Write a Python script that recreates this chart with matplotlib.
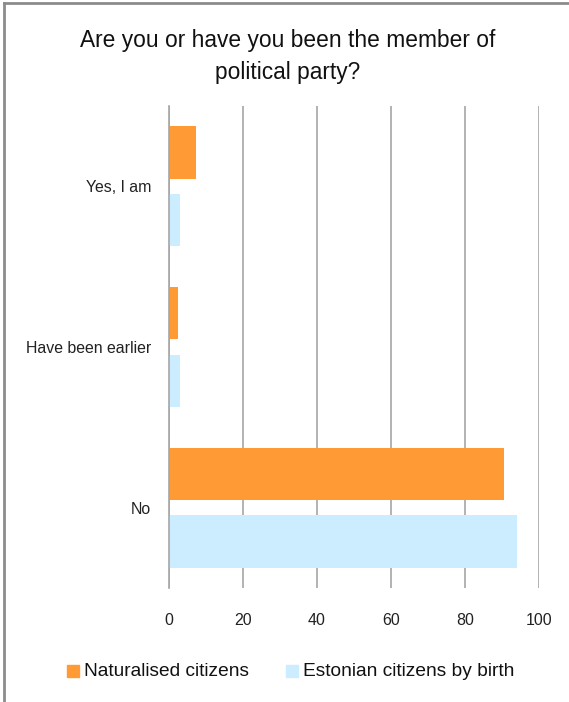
import matplotlib
matplotlib.use("Agg")
import matplotlib.pyplot as plt
from matplotlib.lines import Line2D
from matplotlib.patches import Rectangle
import numpy as np

# ── data ─────────────────────────────────────────────────────────────────────
categories = ["Yes, I am", "Have been earlier", "No"]
naturalised = [7.2, 2.5, 90.6]
by_birth = [3.0, 3.0, 94.1]
series_labels = ["Naturalised citizens", "Estonian citizens by birth"]
x_ticks = [0, 20, 40, 60, 80, 100]

ORANGE = "#FF9A35"
BLUE = "#CCECFF"
GRID = "#A6A6A6"
FONT = ["Liberation Sans", "DejaVu Sans"]

plt.rcParams["font.family"] = FONT

fig = plt.figure(figsize=(5.69, 7.02), dpi=100, facecolor="white")
ax = fig.add_axes([169 / 569, 1 - 588 / 702, 370 / 569, 482 / 702])

y = np.arange(len(categories))
h = 0.325
off = 0.21
ax.barh(y - off, naturalised, height=h, color=ORANGE, zorder=3,
        label=series_labels[0])
ax.barh(y + off, by_birth, height=h, color=BLUE, zorder=3,
        label=series_labels[1])

ax.set_xlim(0, 100)
ax.set_ylim(2.5, -0.5)
ax.set_xticks(x_ticks)
ax.set_yticks(y)
ax.set_yticklabels(categories, fontsize=11.4, color="#222222")
ax.tick_params(axis="y", length=0, pad=13)
ax.tick_params(axis="x", length=0, pad=18, labelsize=11.5, labelcolor="#222222")

ax.grid(axis="x", color=GRID, linewidth=1.2, zorder=0)
for s in ["top", "right", "bottom"]:
    ax.spines[s].set_visible(False)
ax.spines["left"].set_color(GRID)
ax.spines["left"].set_linewidth(1.2)
ax.spines["left"].set_zorder(4)

fig.text(288 / 569, 1 - 40 / 702, "Are you or have you been the member of",
         ha="center", va="center", fontsize=16.4, color="#111111")
fig.text(288 / 569, 1 - 72 / 702, "political party?",
         ha="center", va="center", fontsize=16.4, color="#111111")

# legend
leg_y = 1 - 671 / 702
for xs, lab, col in [(67, series_labels[0], ORANGE), (286, series_labels[1], BLUE)]:
    fig.add_artist(Rectangle((xs / 569, leg_y - 6 / 702), 12 / 569, 12 / 702,
                             transform=fig.transFigure, color=col))
    fig.text((xs + 17) / 569, leg_y, lab, ha="left", va="center",
             fontsize=13.8, color="#111111")

# chart frame (left and top edges visible)
fig.add_artist(Line2D([4 / 569, 4 / 569], [0, 1 - 3 / 702],
                      transform=fig.transFigure, color="#8C8C8C", linewidth=2))
fig.add_artist(Line2D([4 / 569, 1], [1 - 3 / 702, 1 - 3 / 702],
                      transform=fig.transFigure, color="#8C8C8C", linewidth=2))

fig.savefig("out.png", dpi=100, facecolor="white")
